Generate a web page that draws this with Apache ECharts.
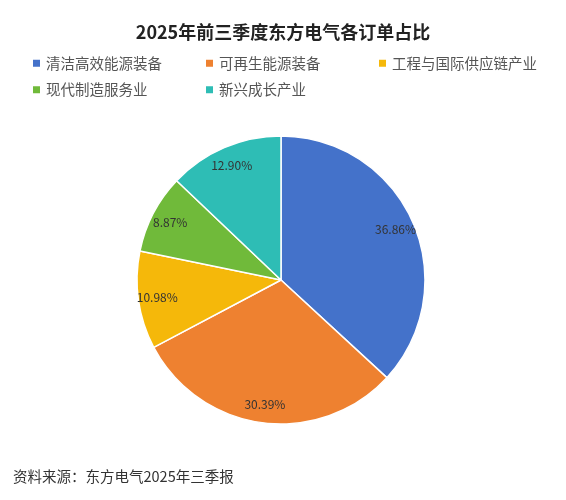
<!DOCTYPE html>
<html>
<head>
<meta charset="utf-8">
<script src="https://cdn.jsdelivr.net/npm/echarts@6/dist/echarts.min.js"></script>
<style>
  html, body { margin: 0; padding: 0; background: #fff; }
  #chart { width: 566px; height: 500px; }
</style>
</head>
<body>
<div id="chart"></div>
<script>
// 订单构成（%）
const categories = ['清洁高效能源装备', '可再生能源装备', '工程与国际供应链产业', '现代制造服务业', '新兴成长产业']
const shares = [36.86, 30.39, 10.98, 8.87, 12.90]
const colors = ['#4472CA', '#EE8130', '#F5B80A', '#70BA3A', '#2EBDB5']

const FONT = '"Noto Sans CJK SC", "Noto Sans", sans-serif'

const pieData = categories.map((name, i) => ({ name, value: shares[i] }))

const chart = echarts.init(document.getElementById('chart'), null, { renderer: 'canvas' })

chart.setOption({
  backgroundColor: '#fff',
  color: colors,
  title: {
    text: '2025年前三季度东方电气各订单占比',
    left: 'center',
    top: 18,
    textStyle: { fontFamily: FONT, fontSize: 18, fontWeight: 'bold', color: '#222' }
  },
  legend: {
    data: categories,
    left: 31,
    top: 56,
    width: 530,
    padding: 0,
    icon: 'rect',
    itemWidth: 9,
    itemHeight: 9,
    itemGap: 12,
    textStyle: { fontFamily: FONT, fontSize: 14.5, color: '#555', width: 146, lineHeight: 10 }
  },
  graphic: [{
    type: 'text',
    left: 13,
    top: 469,
    style: { text: '资料来源：东方电气2025年三季报', fontFamily: FONT, fontSize: 14.5, fill: '#333' }
  }],
  series: [
    {
      name: '订单占比',
      type: 'pie',
      center: [281, 280],
      radius: [0, 144],
      startAngle: 90,
      clockwise: true,
      silent: true,
      data: pieData,
      itemStyle: { borderColor: '#fff', borderWidth: 1.5 },
      label: { show: false },
      labelLine: { show: false }
    },
    {
      // 透明环，只用来把标签放在靠外的位置
      name: '标签',
      type: 'pie',
      center: [281, 280],
      radius: [100, 144],
      startAngle: 90,
      clockwise: true,
      silent: true,
      data: pieData,
      itemStyle: { color: 'rgba(0,0,0,0)', borderWidth: 0 },
      label: {
        show: true,
        position: 'inside',
        formatter: p => p.value.toFixed(2) + '%',
        fontFamily: FONT,
        fontSize: 12,
        color: '#333'
      },
      labelLine: { show: false }
    }
  ]
})
</script>
</body>
</html>
